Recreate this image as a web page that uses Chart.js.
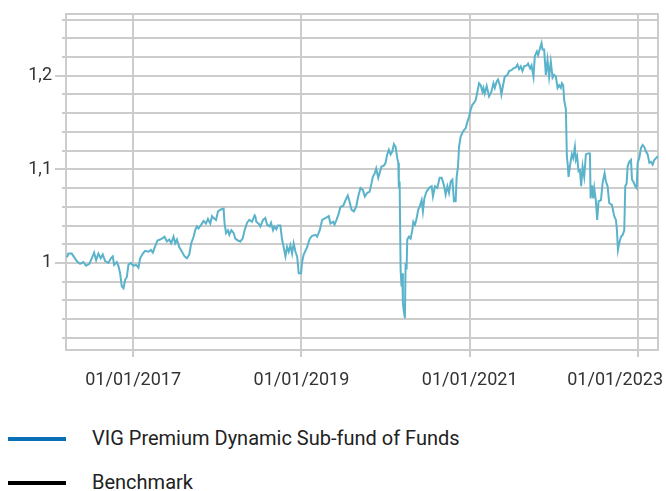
<!DOCTYPE html>
<html>
<head>
<meta charset="utf-8">
<script src="https://cdn.jsdelivr.net/npm/chart.js@4/dist/chart.umd.min.js"></script>
<style>
  body { margin: 0; background: #fff; font-family: Roboto, sans-serif; }
  #wrap { position: relative; width: 666px; height: 491px; overflow: hidden; }
  canvas { position: absolute; left: 0; top: 0; }
  .leg-line { position: absolute; left: 8px; width: 58px; height: 4px; }
  .leg-text { position: absolute; left: 92px; font-size: 20px; color: #222; line-height: 24px; white-space: nowrap; }
</style>
</head>
<body>
<div id="wrap">
  <canvas id="fundChart" width="666" height="410"></canvas>
  <div class="leg-line" style="top:437px;background:#0a70b5"></div>
  <div class="leg-text" style="top:426px">VIG Premium Dynamic Sub-fund of Funds</div>
  <div class="leg-line" style="top:481px;background:#000"></div>
  <div class="leg-text" style="top:470px">Benchmark</div>
</div>
<script>
// Fund value (rebased); x = decimal year
const yearPos = [
  2016.214, 2016.230, 2016.270, 2016.330, 2016.369, 2016.408, 2016.440, 2016.480, 2016.508, 2016.536,
  2016.560, 2016.587, 2016.615, 2016.639, 2016.667, 2016.706, 2016.735, 2016.758, 2016.774, 2016.806,
  2016.825, 2016.845, 2016.865, 2016.885, 2016.905, 2016.925, 2016.944, 2016.973, 2017.004, 2017.036,
  2017.063, 2017.083, 2017.115, 2017.143, 2017.182, 2017.211, 2017.235, 2017.262, 2017.289, 2017.321,
  2017.342, 2017.373, 2017.401, 2017.429, 2017.452, 2017.480, 2017.500, 2017.520, 2017.548, 2017.580,
  2017.611, 2017.639, 2017.667, 2017.690, 2017.718, 2017.738, 2017.758, 2017.777, 2017.810, 2017.837,
  2017.865, 2017.889, 2017.917, 2017.937, 2017.956, 2017.985, 2018.008, 2018.036, 2018.075, 2018.087,
  2018.104, 2018.127, 2018.143, 2018.167, 2018.194, 2018.214, 2018.246, 2018.274, 2018.301, 2018.325,
  2018.354, 2018.381, 2018.413, 2018.444, 2018.452, 2018.464, 2018.492, 2018.512, 2018.544, 2018.571,
  2018.592, 2018.623, 2018.639, 2018.663, 2018.679, 2018.702, 2018.718, 2018.750, 2018.770, 2018.789,
  2018.810, 2018.830, 2018.849, 2018.869, 2018.889, 2018.908, 2018.929, 2018.949, 2018.968, 2018.996,
  2019.008, 2019.027, 2019.068, 2019.099, 2019.127, 2019.167, 2019.187, 2019.218, 2019.246, 2019.286,
  2019.325, 2019.345, 2019.377, 2019.393, 2019.417, 2019.444, 2019.464, 2019.496, 2019.524, 2019.551,
  2019.571, 2019.595, 2019.623, 2019.651, 2019.675, 2019.702, 2019.730, 2019.754, 2019.782, 2019.810,
  2019.833, 2019.849, 2019.873, 2019.889, 2019.913, 2019.929, 2019.952, 2019.980, 2020.000, 2020.020,
  2020.039, 2020.060, 2020.080, 2020.099, 2020.119, 2020.139, 2020.151, 2020.158, 2020.167, 2020.179,
  2020.190, 2020.199, 2020.206, 2020.218, 2020.230, 2020.238, 2020.250, 2020.258, 2020.277, 2020.298,
  2020.318, 2020.330, 2020.349, 2020.365, 2020.389, 2020.405, 2020.429, 2020.444, 2020.461, 2020.485,
  2020.516, 2020.548, 2020.563, 2020.587, 2020.615, 2020.643, 2020.667, 2020.694, 2020.714, 2020.735,
  2020.754, 2020.774, 2020.794, 2020.813, 2020.833, 2020.845, 2020.861, 2020.873, 2020.893, 2020.913,
  2020.932, 2020.952, 2020.973, 2020.992, 2021.012, 2021.032, 2021.051, 2021.071, 2021.092, 2021.111,
  2021.131, 2021.151, 2021.163, 2021.179, 2021.202, 2021.230, 2021.258, 2021.282, 2021.298, 2021.321,
  2021.337, 2021.361, 2021.377, 2021.401, 2021.417, 2021.449, 2021.468, 2021.496, 2021.520, 2021.548,
  2021.568, 2021.587, 2021.607, 2021.627, 2021.646, 2021.679, 2021.694, 2021.718, 2021.735, 2021.758,
  2021.774, 2021.798, 2021.813, 2021.837, 2021.854, 2021.865, 2021.885, 2021.905, 2021.925, 2021.944,
  2021.964, 2021.985, 2022.004, 2022.024, 2022.044, 2022.063, 2022.083, 2022.095, 2022.111, 2022.123,
  2022.143, 2022.155, 2022.167, 2022.175, 2022.190, 2022.214, 2022.230, 2022.250, 2022.262, 2022.277,
  2022.294, 2022.310, 2022.325, 2022.342, 2022.361, 2022.381, 2022.405, 2022.429, 2022.437, 2022.452,
  2022.468, 2022.480, 2022.500, 2022.515, 2022.532, 2022.560, 2022.579, 2022.603, 2022.619, 2022.639,
  2022.658, 2022.690, 2022.718, 2022.738, 2022.750, 2022.762, 2022.777, 2022.798, 2022.818, 2022.837,
  2022.849, 2022.865, 2022.877, 2022.896, 2022.917, 2022.929, 2022.944, 2022.968, 2022.985, 2022.996,
  2023.015, 2023.036, 2023.056, 2023.075, 2023.095, 2023.115, 2023.135, 2023.155, 2023.175, 2023.194,
  2023.214, 2023.235
];
const fundValues = [
  1.006, 1.010, 1.010, 1.002, 0.999, 1.001, 0.997, 0.999, 1.005, 1.011,
  1.003, 1.010, 1.005, 1.009, 1.002, 1.000, 1.005, 1.007, 0.998, 1.001,
  0.997, 0.989, 0.975, 0.973, 0.982, 0.985, 0.998, 1.000, 0.997, 0.998,
  0.995, 1.005, 1.010, 1.013, 1.012, 1.014, 1.011, 1.018, 1.024, 1.025,
  1.026, 1.028, 1.023, 1.025, 1.021, 1.028, 1.021, 1.025, 1.017, 1.012,
  1.007, 1.005, 1.009, 1.021, 1.028, 1.035, 1.039, 1.037, 1.041, 1.045,
  1.042, 1.047, 1.042, 1.050, 1.048, 1.046, 1.055, 1.057, 1.058, 1.042,
  1.032, 1.035, 1.030, 1.035, 1.032, 1.026, 1.024, 1.023, 1.026, 1.035,
  1.043, 1.046, 1.044, 1.051, 1.050, 1.044, 1.042, 1.039, 1.046, 1.048,
  1.041, 1.039, 1.043, 1.035, 1.039, 1.036, 1.040, 1.040, 1.025, 1.017,
  1.007, 1.017, 1.012, 1.019, 1.010, 1.021, 1.012, 1.007, 0.989, 0.989,
  1.001, 1.009, 1.017, 1.026, 1.029, 1.030, 1.028, 1.035, 1.046, 1.048,
  1.050, 1.042, 1.044, 1.041, 1.046, 1.053, 1.060, 1.061, 1.067, 1.072,
  1.066, 1.057, 1.055, 1.060, 1.071, 1.080, 1.078, 1.071, 1.075, 1.076,
  1.085, 1.092, 1.096, 1.101, 1.091, 1.096, 1.103, 1.104, 1.107, 1.116,
  1.121, 1.116, 1.119, 1.127, 1.124, 1.112, 1.107, 1.080, 1.087, 0.993,
  0.975, 0.989, 0.957, 0.948, 0.941, 1.000, 0.993, 1.025, 1.028, 1.026,
  1.035, 1.044, 1.041, 1.046, 1.057, 1.060, 1.067, 1.055, 1.069, 1.076,
  1.080, 1.082, 1.071, 1.082, 1.080, 1.091, 1.091, 1.083, 1.073, 1.082,
  1.075, 1.087, 1.089, 1.066, 1.066, 1.092, 1.103, 1.124, 1.135, 1.139,
  1.142, 1.144, 1.151, 1.156, 1.164, 1.169, 1.171, 1.174, 1.183, 1.192,
  1.190, 1.183, 1.187, 1.181, 1.189, 1.178, 1.183, 1.192, 1.187, 1.194,
  1.196, 1.189, 1.180, 1.192, 1.199, 1.201, 1.205, 1.206, 1.208, 1.209,
  1.212, 1.207, 1.210, 1.205, 1.210, 1.211, 1.213, 1.208, 1.211, 1.199,
  1.221, 1.226, 1.222, 1.230, 1.235, 1.228, 1.228, 1.201, 1.217, 1.199,
  1.215, 1.198, 1.201, 1.199, 1.187, 1.190, 1.187, 1.192, 1.190, 1.174,
  1.164, 1.114, 1.103, 1.092, 1.103, 1.116, 1.112, 1.124, 1.110, 1.114,
  1.098, 1.099, 1.082, 1.103, 1.092, 1.116, 1.117, 1.117, 1.069, 1.083,
  1.069, 1.080, 1.066, 1.046, 1.066, 1.067, 1.085, 1.096, 1.087, 1.082,
  1.064, 1.062, 1.050, 1.046, 1.035, 1.014, 1.021, 1.028, 1.030, 1.035,
  1.082, 1.085, 1.103, 1.108, 1.110, 1.089, 1.087, 1.082, 1.080, 1.107,
  1.112, 1.123, 1.126, 1.124, 1.119, 1.116, 1.107, 1.108, 1.105, 1.110,
  1.112, 1.114
];

// axis ticks
const xTickYears = [2017, 2019, 2021, 2023];
const yGridValues = [0.92, 0.94, 0.96, 0.98, 1.00, 1.02, 1.04, 1.06, 1.08, 1.10,
                     1.12, 1.14, 1.16, 1.18, 1.20, 1.22, 1.24, 1.26];
const yLabelValues = [1, 1.1, 1.2];

const gridColor = '#cccccc';
const textColor = '#333';
const tickFont = '18px Roboto';

const isLabelled = (v) => yLabelValues.some(l => Math.abs(l - v) < 1e-6);

// frame around the plot and longer ticks at labelled values
const framePlugin = {
    id: 'frame',
    beforeDatasetsDraw(chart) {
        const { ctx, chartArea } = chart;
        const yScale = chart.scales.y;
        ctx.save();
        ctx.strokeStyle = gridColor;
        ctx.lineWidth = 2;
        ctx.strokeRect(chartArea.left, chartArea.top, chartArea.right - chartArea.left, chartArea.bottom - chartArea.top);
        yLabelValues.forEach(v => {
            const py = Math.round(yScale.getPixelForValue(v));
            ctx.beginPath();
            ctx.moveTo(chartArea.left - 11, py);
            ctx.lineTo(chartArea.left, py);
            ctx.stroke();
        });
        ctx.restore();
    },
    // date labels, the last one is pulled in so it stays on the canvas
    afterDraw(chart) {
        const { ctx, chartArea, width } = chart;
        const xScale = chart.scales.x;
        ctx.save();
        ctx.font = tickFont;
        ctx.fillStyle = textColor;
        ctx.textAlign = 'center';
        ctx.textBaseline = 'middle';
        xTickYears.forEach(year => {
            const text = '01/01/' + year;
            const w = ctx.measureText(text).width;
            let cx = xScale.getPixelForValue(year);
            cx = Math.min(cx, width - 3 - w / 2);
            ctx.fillText(text, cx, chartArea.bottom + 30);
        });
        ctx.restore();
    }
};

// keep tick labels from pushing the plot area in
function noPad(scale) {
    scale.paddingLeft = 0;
    scale.paddingRight = 0;
    scale.paddingTop = 0;
    scale.paddingBottom = 0;
}

const ctx = document.getElementById('fundChart');
new Chart(ctx, {
    type: 'line',
    data: {
        datasets: [{
            label: 'VIG Premium Dynamic Sub-fund of Funds',
            data: yearPos.map((x, i) => ({ x: x, y: fundValues[i] })),
            borderColor: '#5ab3cb',
            borderWidth: 2,
            pointRadius: 0,
            tension: 0,
            fill: false
        }]
    },
    options: {
        responsive: false,
        animation: false,
        layout: { padding: { top: 14, right: 8, left: 0, bottom: 0 } },
        plugins: {
            legend: { display: false },
            tooltip: { enabled: false }
        },
        scales: {
            x: {
                type: 'linear',
                min: 2016.202,
                max: 2023.238,
                afterBuildTicks: (scale) => { scale.ticks = xTickYears.map(v => ({ value: v })); },
                afterFit: (scale) => { scale.height = 60; noPad(scale); },
                ticks: { display: false },
                grid: { color: gridColor, lineWidth: 2, tickLength: 7 },
                border: { display: false }
            },
            y: {
                min: 0.907,
                max: 1.266,
                afterBuildTicks: (scale) => { scale.ticks = yGridValues.map(v => ({ value: v })); },
                afterFit: (scale) => { scale.width = 66; noPad(scale); },
                ticks: {
                    autoSkip: false,
                    padding: 10,
                    color: textColor,
                    font: { family: 'Roboto', size: 18 },
                    callback: (v) => isLabelled(v) ? String(Number(v.toFixed(2))).replace('.', ',') : ''
                },
                grid: { color: gridColor, lineWidth: 2, tickLength: 4 },
                border: { display: false }
            }
        }
    },
    plugins: [framePlugin]
});
</script>
</body>
</html>
